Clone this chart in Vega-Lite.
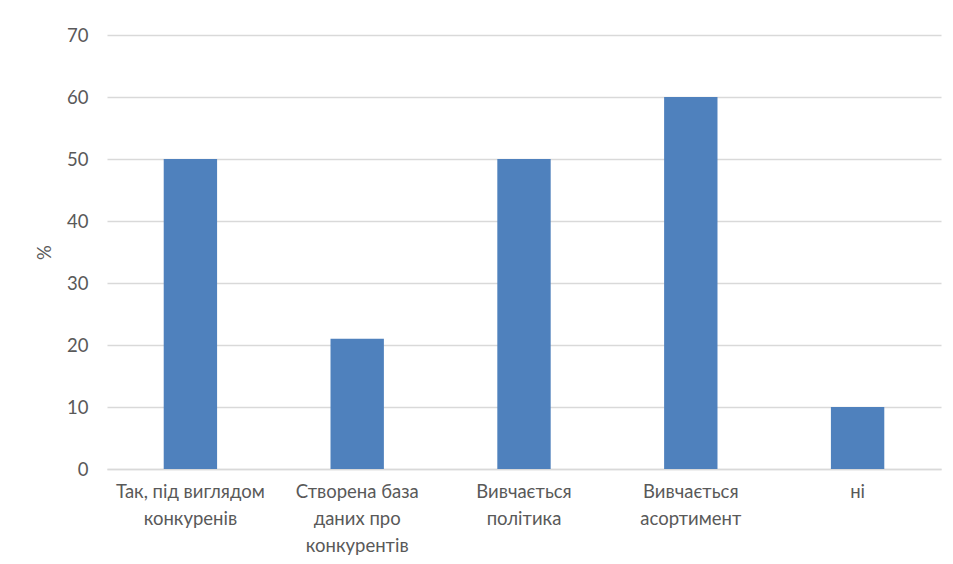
{
  "$schema": "https://vega.github.io/schema/vega-lite/v6.json",
  "autosize": {"type": "none"},
  "padding": {"left": 107, "top": 35, "right": 12, "bottom": 95},
  "width": 834,
  "height": 434,
  "background": "white",
  "config": {
    "view": {"stroke": null},
    "font": "Lato"
  },
  "data": {
    "values": [
      {"category": "Так, під виглядом\nконкуренів", "value": 50},
      {"category": "Створена база\nданих про\nконкурентів", "value": 21},
      {"category": "Вивчається\nполітика", "value": 50},
      {"category": "Вивчається\nасортимент", "value": 60},
      {"category": "ні", "value": 10}
    ]
  },
  "mark": {"type": "bar", "color": "#4f81bd"},
  "encoding": {
    "x": {
      "field": "category",
      "type": "nominal",
      "sort": null,
      "scale": {"paddingInner": 0.68, "paddingOuter": 0.34},
      "axis": {
        "title": null,
        "labelAngle": 0,
        "labelExpr": "split(datum.label, '\\n')",
        "labelFontSize": 18.5,
        "labelColor": "#595959",
        "labelLineHeight": 27,
        "labelPadding": 13,
        "labelLimit": 0,
        "ticks": false,
        "domainColor": "#d9d9d9",
        "domainWidth": 1.3
      }
    },
    "y": {
      "field": "value",
      "type": "quantitative",
      "scale": {"domain": [0, 70]},
      "axis": {
        "title": "%",
        "titleFontSize": 18.5,
        "titleFontWeight": "normal",
        "titleColor": "#595959",
        "titlePadding": 12,
        "values": [0, 10, 20, 30, 40, 50, 60, 70],
        "labelFontSize": 18.5,
        "labelColor": "#595959",
        "labelPadding": 19,
        "ticks": false,
        "domain": false,
        "gridColor": "#d9d9d9",
        "gridWidth": 1.3
      }
    }
  }
}
